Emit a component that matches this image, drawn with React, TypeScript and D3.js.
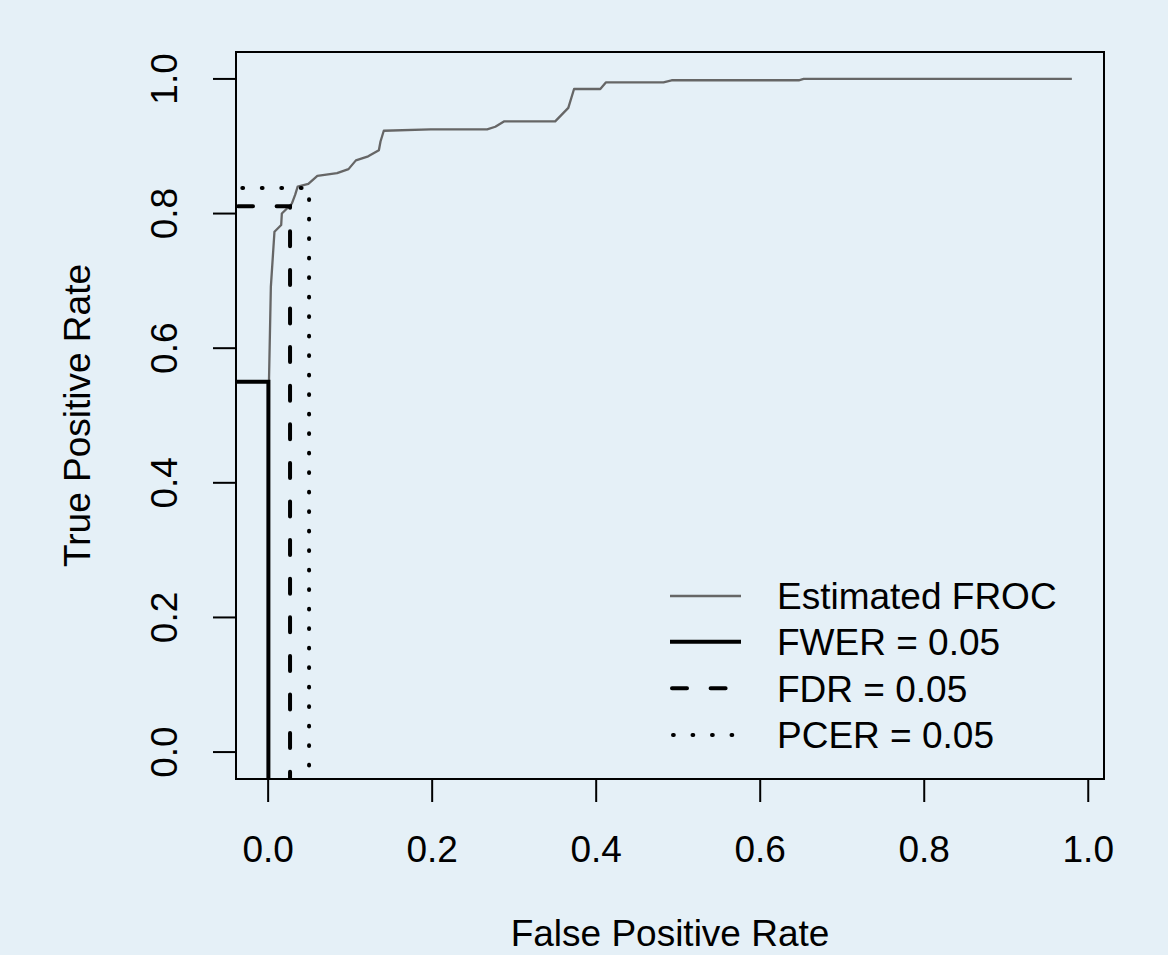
import React from 'react';
import * as d3 from 'd3';

// Estimated FROC curve
const frocFpr = [0, 0.001, 0.0033, 0.0077, 0.0159, 0.0167, 0.0208, 0.029, 0.033, 0.036,
    0.049, 0.060, 0.084, 0.098, 0.107, 0.122, 0.135, 0.137, 0.141, 0.198,
    0.267, 0.277, 0.288, 0.350, 0.358, 0.366, 0.373, 0.405, 0.412, 0.482,
    0.492, 0.647, 0.653, 0.98];
const frocTpr = [0, 0.55, 0.691, 0.773, 0.783, 0.800, 0.805, 0.815, 0.828, 0.840,
    0.844, 0.856, 0.860, 0.866, 0.879, 0.885, 0.894, 0.907, 0.923, 0.925,
    0.925, 0.929, 0.937, 0.937, 0.947, 0.957, 0.985, 0.985, 0.995, 0.995,
    0.998, 0.998, 1.0, 1.0];

// error-rate control thresholds
const thresholdNames = ['FWER = 0.05', 'FDR = 0.05', 'PCER = 0.05'];
const thresholdFpr = [0.0003, 0.0267, 0.0499];
const thresholdTpr = [0.550, 0.811, 0.838];

const xTicks = [0, 0.2, 0.4, 0.6, 0.8, 1.0];
const yTicks = [0, 0.2, 0.4, 0.6, 0.8, 1.0];
const legendLabels = ['Estimated FROC', ...thresholdNames];

const W = 1168;
const H = 955;
const box = { left: 236, right: 1104, top: 52, bottom: 779 };
const FONT = "'Liberation Sans', Arial, Helvetica, sans-serif";
const BG = '#e5f0f7';
const FS = 37;
const half = 0.358 * FS; // half cap height, to centre text on a line

const thresholdStyles = [
    { dash: 'none', cap: 'butt', offset: 0 },
    { dash: '15 23.6', cap: 'round', offset: -2 },
    { dash: '0.8 18.7', cap: 'round', offset: 13.2 },
];

export default function App() {
    // R style 4% padding around the data range
    const xPad = 0.04 * (d3.max(frocFpr)! - 0);
    const x = d3.scaleLinear().domain([0 - xPad, d3.max(frocFpr)! + xPad]).range([box.left, box.right]);
    const y = d3.scaleLinear().domain([-0.04, 1.04]).range([box.bottom, box.top]);

    const line = d3.line<number>().x((_, i) => x(frocFpr[i])).y(d => y(d));
    const frocPath = line(frocTpr) || '';

    const legRows = [596, 641.7, 688.3, 735];

    return (
        <svg width={W} height={H} style={{ position: 'absolute', left: 0, top: 0, background: BG }}
            fontFamily={FONT} fontSize={FS}>
            <rect x={0} y={0} width={W} height={H} fill={BG} />
            <defs>
                <clipPath id="plotClip">
                    <rect x={box.left} y={box.top} width={box.right - box.left} height={box.bottom - box.top} />
                </clipPath>
            </defs>

            <g clipPath="url(#plotClip)">
                <path d={frocPath} fill="none" stroke="#666666" strokeWidth={2.3} strokeLinejoin="round" />
                {thresholdFpr.map((fx, i) => {
                    const d = d3.line()([
                        [x.invert(box.left), thresholdTpr[i]],
                        [fx, thresholdTpr[i]],
                        [fx, y.invert(box.bottom + 6)],
                    ].map(([a, b]) => [x(a), y(b)] as [number, number])) || '';
                    const st = thresholdStyles[i];
                    return (
                        <path key={i} d={d} fill="none" stroke="#000" strokeWidth={4}
                            strokeDasharray={st.dash} strokeDashoffset={st.offset}
                            strokeLinecap={st.cap as any} />
                    );
                })}
            </g>

            {/* frame */}
            <rect x={box.left} y={box.top} width={box.right - box.left} height={box.bottom - box.top}
                fill="none" stroke="#000" strokeWidth={2} />

            {/* x axis */}
            {xTicks.map(t => (
                <g key={'x' + t}>
                    <line x1={x(t)} x2={x(t)} y1={box.bottom} y2={box.bottom + 23} stroke="#000" strokeWidth={2} />
                    <text x={x(t)} y={849 + half} textAnchor="middle">{t.toFixed(1)}</text>
                </g>
            ))}

            {/* y axis */}
            {yTicks.map(t => (
                <g key={'y' + t}>
                    <line x1={box.left} x2={box.left - 23} y1={y(t)} y2={y(t)} stroke="#000" strokeWidth={2} />
                    <text transform={`translate(${164 + half},${y(t)}) rotate(-90)`} textAnchor="middle">
                        {t.toFixed(1)}
                    </text>
                </g>
            ))}

            <text x={(box.left + box.right) / 2} y={933 + half} textAnchor="middle">False Positive Rate</text>
            <text transform={`translate(${77 + half},${(box.top + box.bottom) / 2}) rotate(-90)`} textAnchor="middle">
                True Positive Rate
            </text>

            {/* legend, no box */}
            {legendLabels.map((lab, i) => {
                const st = i === 0 ? null : thresholdStyles[i - 1];
                return (
                    <g key={lab}>
                        <line x1={670} x2={741} y1={legRows[i]} y2={legRows[i]}
                            stroke={i === 0 ? '#666666' : '#000'} strokeWidth={i === 0 ? 2.3 : 4}
                            strokeDasharray={st ? st.dash : 'none'}
                            strokeDashoffset={i === 3 ? -3 : i === 2 ? -2 : 0}
                            strokeLinecap={st ? (st.cap as any) : 'butt'} />
                        <text x={777} y={legRows[i] + half}>{lab}</text>
                    </g>
                );
            })}
        </svg>
    );
}
